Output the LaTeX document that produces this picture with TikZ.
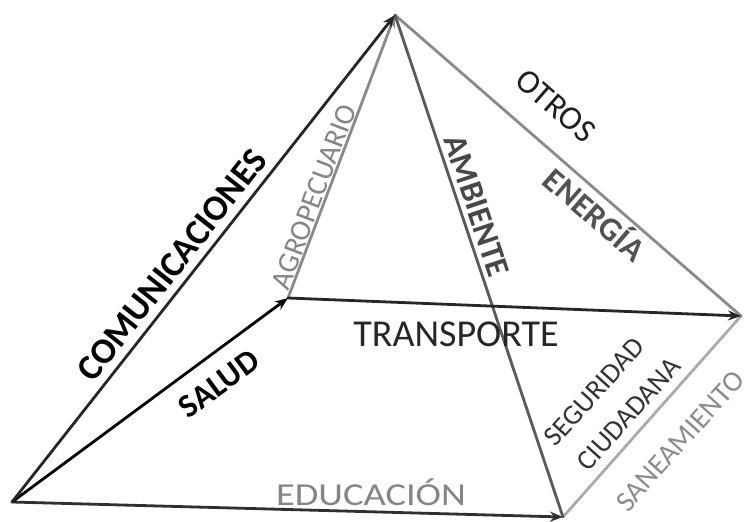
\documentclass[tikz,border=0pt]{standalone}
\usepackage{fontspec}
\setmainfont{Carlito}
\usetikzlibrary{arrows.meta}
\newcommand{\lblsize}[1]{\fontsize{#1}{#1}\selectfont}
\definecolor{inkA}{HTML}{262626}
\definecolor{grayline}{HTML}{8A8A8A}
\definecolor{midline}{HTML}{5A5A5A}
\definecolor{lightline}{HTML}{ABABAB}
\definecolor{graytext}{HTML}{858585}
\begin{document}
\begin{tikzpicture}[x=1pt,y=-1pt,
  edge/.style={line width=2.8pt, line cap=round},
  tip/.style={-{Stealth[length=13pt,width=10pt]}},
  lbl/.style={inner sep=0pt, anchor=center},
]
\useasboundingbox (0,0) rectangle (747,522);
\fill[white] (0,0) rectangle (747,522);
\coordinate (P) at (395,15);
\coordinate (A) at (12,502);
\coordinate (B) at (563,517);
\coordinate (C) at (288,298);
\coordinate (D) at (741,316);
% gray edges
\draw[edge, lightline] (B) -- (D);
\draw[edge, grayline] (P) -- (D);
\draw[edge, grayline, tip] (C) -- (P);
\draw[edge, midline] (P) -- (B);
% dark edges
\draw[edge, inkA, tip] (C) -- (D);
\draw[edge, inkA!90!gray, tip] (A) -- (B);
\draw[edge, black, tip] (A) -- (C);
\draw[edge, inkA, tip] (A) -- (P);
% labels
\node[lbl, rotate=51.8, text=black] (lcom) at (172,265) {\lblsize{36}\bfseries COMUNICACIONES};
\node[lbl, rotate=36.5, text=black] (lsal) at (219,384) {\lblsize{33}\bfseries SALUD};
\node[lbl, rotate=69.3, text=graytext] (lagr) at (314,197) {\lblsize{29.5}AGROPECUARIO};
\node[lbl, rotate=-71.5, text=black!72] (lamb) at (477,206) {\lblsize{33}\bfseries AMBIENTE};
\node[lbl, rotate=-41, text=black!88] (lotr) at (556,106) {\lblsize{33.5}OTROS};
\node[lbl, rotate=-41, text=black!68] (lene) at (596,213) {\lblsize{33}\bfseries ENERGÍA};
\node[lbl, text=black!85] (ltra) at (456,334) {\lblsize{38}TRANSPORTE};
\node[lbl, text=graytext] (ledu) at (371,492) {\scalebox{1.2}[1]{\lblsize{32}EDUCACIÓN}};
\node[lbl, rotate=48, text=black!80] (lseg) at (594,392) {\lblsize{28}SEGURIDAD};
\node[lbl, rotate=48, text=black!80] (lciu) at (629,414) {\lblsize{28}CIUDADANA};
\node[lbl, rotate=48.2, text=black!45] (lsan) at (680,441) {\lblsize{29}SANEAMIENTO};
\end{tikzpicture}
\end{document}
